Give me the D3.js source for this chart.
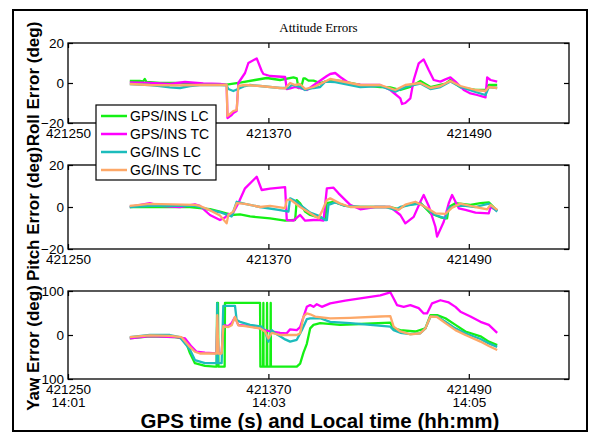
<!DOCTYPE html>
<html>
<head>
<meta charset="utf-8">
<script src="https://cdn.jsdelivr.net/npm/d3@7/dist/d3.min.js"></script>
<style>
  html, body { margin: 0; padding: 0; background: #fff; }
  svg { display: block; }
</style>
</head>
<body>
<svg id="chart" width="590" height="433"></svg>
<script>
// ---- time axis ----
const timeDomain = [421250, 421550];
const timeTicks = [421250, 421370, 421490];
const clockLabels = ["14:01", "14:03", "14:05"];

// ---- series ----
const seriesNames = ["GPS/INS LC", "GPS/INS TC", "GG/INS LC", "GG/INS TC"];
const seriesColors = ["#14f014", "#ff00ff", "#1cbcbc", "#fda868"];

// Roll error (deg) — [GPS time, value]
const rollGpsLC = [[421287,1],[421293,1],[421295,0.8],[421296,2],[421297,0.5],[421305,0],[421317,0],[421329,-0.5],[421345,-0.8],[421353,0.2],[421362,1.5],[421369,2.5],[421377,1.5],[421385,2.8],[421387,2.3],[421388,-2.5],[421390,-1],[421391,2.3],[421392,2.3],[421394,1.2],[421397,1.2],[421401,0],[421407,1.5],[421413,1],[421425,-1],[421437,-2],[421443,-2.2],[421449,-3.5],[421455,-2],[421461,1],[421467,-2],[421476,-0.3],[421479,1.5],[421485,-2.2],[421494,-3.5],[421500,-3.5],[421502,-1],[421507,-1]];
const rollGpsTC = [[421287,0.3],[421299,0],[421311,-0.5],[421320,0.5],[421331,-0.2],[421341,-0.5],[421345,-1],[421345.5,-17.5],[421348,-16],[421349,-15],[421351,-14],[421352,0],[421356,5],[421358,10],[421363,12.3],[421366,6],[421367,4.5],[421371,3.5],[421380,3],[421381,-3],[421383,-2.7],[421386,-2],[421393,-3.5],[421399,0],[421405,3.5],[421407,4.5],[421410,5],[421413,3],[421419,-0.5],[421425,-0.8],[421437,-1],[421443,-3.5],[421449,-7.7],[421450,-10.5],[421452,-10],[421455,-7.7],[421457,1.5],[421460,9.8],[421463,11.8],[421466,6.5],[421469,1.5],[421473,0.7],[421476,1.8],[421479,2.8],[421482,0.7],[421487,-3.5],[421491,-5.2],[421495,-6],[421500,-7.2],[421501,2.8],[421503,1.5],[421507,0.7]];
const rollGgLC = [[421287,-0.5],[421299,-1],[421305,-1.5],[421311,-2.2],[421317,-2.5],[421323,-1.5],[421329,-1],[421341,-1],[421345,-1.2],[421346,-3],[421349,-4],[421356,-1.5],[421359,-1],[421365,-1.5],[421377,-2.5],[421382,-2.5],[421384,-1],[421389,-2],[421392,-3.5],[421397,-2.5],[421401,-2],[421404,0.7],[421410,0.5],[421413,0],[421425,-2],[421437,-1.5],[421446,-4.3],[421452,-2],[421461,-0.3],[421467,-3],[421473,-2],[421479,0.8],[421485,-2],[421494,-4.5],[421500,-6],[421502,-2],[421507,-2.5]];
const rollGgTC = [[421287,-0.5],[421299,-1],[421317,-1.2],[421329,-1],[421345,-1],[421345.5,-16.5],[421349,-14],[421351,-13.5],[421352,-1.5],[421356,-1],[421365,-1.5],[421377,-2.5],[421380,-2.7],[421383,0],[421386,-1],[421389,-0.5],[421392,-3],[421397,-2],[421401,-0.5],[421407,2],[421413,1],[421419,0],[421425,-1],[421437,-1],[421446,-3.5],[421452,-1],[421461,0],[421467,-2.5],[421473,-1.5],[421479,1],[421485,-1.5],[421494,-3.5],[421500,-4],[421502,-2],[421507,-2.5]];

// Pitch error (deg)
const pitchGpsLC = [[421287,0],[421299,0],[421323,0],[421329,-0.5],[421335,-1],[421341,-2.2],[421348,-3.8],[421353,-3.5],[421359,-4.5],[421371,-5.4],[421380,-6.5],[421385,-6.2],[421386,-6.2],[421387,3.3],[421389,1.8],[421392,-2.2],[421395,-3.8],[421398,-4.5],[421403,-5.4],[421404,-5.4],[421405,1.8],[421409,2.5],[421416,0.5],[421425,0],[421443,0],[421448,-1],[421452,0.8],[421461,2],[421467,-3],[421473,-4.9],[421476,-5.4],[421477,-5.4],[421478,0],[421482,1.8],[421491,1],[421497,1.8],[421502,2.2],[421507,-1.8]];
const pitchGpsTC = [[421287,0],[421299,1.8],[421305,0.5],[421317,0],[421326,1.3],[421329,0.5],[421335,-3.8],[421341,-6.2],[421344,-5],[421346,-3.3],[421348,-4],[421352,1.8],[421356,8.9],[421363,14.4],[421366,8.1],[421371,8.7],[421380,9.5],[421381,-6.2],[421385,-6.5],[421389,-3.8],[421392,-6.5],[421397,-6.2],[421401,-6.2],[421403,-6.5],[421405,8.9],[421409,9.2],[421412,6.5],[421419,1],[421425,-1.1],[421434,0],[421443,0],[421449,-3.8],[421452,-7.8],[421457,-4.7],[421461,2.5],[421463,5.7],[421466,0.5],[421470,-9.4],[421471,-14.1],[421475,-7],[421478,1.8],[421480,5.7],[421484,-0.6],[421488,-1.4],[421494,-2.7],[421502,-3],[421503,0],[421507,-1.8]];
const pitchGgLC = [[421287,0],[421299,0.5],[421326,0.5],[421329,0],[421335,-1.5],[421341,-2.5],[421348,-4.5],[421351,2.5],[421356,1.5],[421365,0],[421377,-1.5],[421382,-2.2],[421383,4.1],[421386,3],[421389,1],[421395,-2.7],[421401,-4.5],[421404,-6.2],[421405,-6.2],[421406,1],[421410,2.2],[421416,0.5],[421425,0],[421440,0],[421446,-1.4],[421449,0],[421455,1],[421461,1.6],[421470,-3.8],[421476,-5.4],[421478,-0.3],[421482,0.5],[421488,0.5],[421494,0],[421502,1.6],[421507,-2.2]];
const pitchGgTC = [[421287,0.5],[421299,1.5],[421326,1],[421329,0.5],[421335,-1.5],[421341,-4],[421345,-7.8],[421346,-3.8],[421349,-2.2],[421351,1.8],[421356,1.5],[421365,0],[421371,0.5],[421380,-0.5],[421381,3.3],[421383,3.6],[421389,0],[421395,-3],[421400,-5.4],[421402,-2.2],[421405,3.3],[421407,4.1],[421413,1.6],[421419,0],[421437,0],[421443,0],[421448,-1.4],[421452,1.1],[421458,2.5],[421464,0],[421470,-3],[421476,-3.3],[421480,-0.3],[421485,1.6],[421494,0],[421501,-1.1],[421503,1],[421507,-1.4]];

// Yaw error (deg)
const yawGpsLC = [[421287,-7.6],[421299,-3],[421314,-5],[421320,-9],[421323,-41],[421326,-64],[421332,-70],[421338,-72],[421339,-72],[421339.3,73],[421339.8,73],[421340.1,-72],[421343.8,-72],[421344,73],[421365,73],[421365.2,-72],[421366.8,-72],[421367,73],[421367.1,-72],[421369,-72],[421369.2,73],[421369.3,-72],[421371.2,-72],[421371.4,73],[421371.5,-72],[421387,-72],[421389,-65],[421391,-40],[421393,-20],[421395,15],[421397,23],[421401,27],[421413,23],[421425,25],[421443,28],[421445,15],[421449,11],[421458,8],[421464,15],[421467,45],[421471,45],[421476,38],[421482,23],[421488,8],[421497,-3],[421502,-15],[421507,-23]];
const yawGpsTC = [[421287,-7.6],[421299,-2.3],[421314,-4.5],[421320,-7.6],[421324,-26.5],[421327,-38],[421332,-40],[421339,-41.7],[421339.4,40],[421340,-41.7],[421342,-41.7],[421343,22.7],[421346,20],[421348,27],[421350,41],[421352,22.7],[421359,20],[421365,15],[421369,10],[421377,5],[421381,3.8],[421383,13],[421387,11],[421389,18],[421393,64],[421395,68],[421397,64],[421399,70],[421402,64],[421407,72],[421416,78],[421425,83],[421437,90],[421443,97],[421445,83],[421447,68],[421451,64],[421455,68],[421460,61],[421463,49],[421465,49],[421468,72],[421473,79],[421478,74],[421482,64],[421485,53],[421491,42],[421497,30],[421502,23],[421507,5]];
const yawGgLC = [[421287,-5],[421299,0],[421311,0],[421317,-5],[421323,-33],[421326,-57],[421332,-64],[421339,-64],[421339.4,72],[421339.8,-64],[421342,-64],[421343,66],[421350,66],[421351,34],[421353,30],[421359,23],[421366,19],[421368,8],[421370,-15],[421372,11],[421374,4],[421377,-3],[421380,-10],[421383,-15],[421387,-11],[421390,11],[421393,36],[421395,38],[421401,38],[421407,30],[421419,27],[421431,23],[421443,19],[421445,11],[421449,5],[421455,2],[421461,4],[421464,15],[421467,41],[421471,42],[421476,30],[421482,15],[421488,4],[421497,-9],[421502,-19],[421507,-27]];
const yawGgTC = [[421287,-5],[421299,-1],[421311,-2],[421318,-5],[421323,-27],[421326,-38],[421329,-42],[421339,-42],[421339.4,45],[421340,-42],[421342,-42],[421343,20],[421346,18],[421348,22],[421350,41],[421352,22],[421356,20],[421365,15],[421368,8],[421370,-8],[421372,5],[421377,0],[421383,0],[421387,0],[421389,4],[421391,42],[421393,49],[421395,47],[421398,42],[421407,38],[421419,39],[421437,42],[421443,43],[421445,19],[421449,8],[421455,1.5],[421461,4],[421464,15],[421467,42],[421471,41],[421476,27],[421482,11],[421488,0],[421497,-15],[421502,-25],[421507,-34]];

// ---- panels ----
const panels = [
  { label: "Roll Error (deg)",  domain: [-20, 20],   ticks: [-20, 0, 20],   top: 43,  bottom: 123, labelY: 84,
    series: [rollGpsLC, rollGpsTC, rollGgLC, rollGgTC] },
  { label: "Pitch Error (deg)", domain: [-20, 20],   ticks: [-20, 0, 20],   top: 165, bottom: 249, labelY: 214,
    series: [pitchGpsLC, pitchGpsTC, pitchGgLC, pitchGgTC] },
  { label: "Yaw Error (deg)",   domain: [-100, 100], ticks: [-100, 0, 100], top: 291, bottom: 379, labelY: 348,
    series: [yawGpsLC, yawGpsTC, yawGgLC, yawGgTC] }
];

const svg = d3.select("#chart");
const plotLeft = 68, plotRight = 569;
const tickFont = "Liberation Sans, Arial, sans-serif";

// outer figure frame
svg.append("rect")
  .attr("x", 13).attr("y", 10).attr("width", 574).attr("height", 421)
  .attr("fill", "none").attr("stroke", "#000").attr("stroke-width", 2);

svg.append("text")
  .attr("x", (plotLeft + plotRight) / 2).attr("y", 32)
  .attr("text-anchor", "middle")
  .attr("font-family", "Liberation Serif, Times New Roman, serif")
  .attr("font-size", 13)
  .text("Attitude Errors");

const x = d3.scaleLinear().domain(timeDomain).range([plotLeft, plotRight]);

panels.forEach((p, pi) => {
  const y = d3.scaleLinear().domain(p.domain).range([p.bottom, p.top]);
  const g = svg.append("g");
  const last = pi === panels.length - 1;

  // bottom axis with labels, ticks pointing inward
  const bottomAxis = d3.axisBottom(x).tickValues(timeTicks)
    .tickSizeInner(-5).tickSizeOuter(0).tickPadding(5).tickFormat(d3.format("d"));
  const gb = g.append("g").attr("transform", `translate(0,${p.bottom})`).call(bottomAxis);
  if (last) {
    gb.selectAll(".tick text").each(function(d, i) {
      d3.select(this).append("tspan").attr("x", 0).attr("dy", "1.0em").text(clockLabels[i]);
    });
  }
  // top axis (ticks only)
  g.append("g").attr("transform", `translate(0,${p.top})`)
    .call(d3.axisTop(x).tickValues(timeTicks).tickSizeInner(-5).tickSizeOuter(0).tickFormat(""));
  // left axis with labels
  g.append("g").attr("transform", `translate(${plotLeft},0)`)
    .call(d3.axisLeft(y).tickValues(p.ticks).tickSizeInner(-5).tickSizeOuter(0).tickPadding(4));
  // right axis (ticks only)
  g.append("g").attr("transform", `translate(${plotRight},0)`)
    .call(d3.axisRight(y).tickValues(p.ticks).tickSizeInner(-5).tickSizeOuter(0).tickFormat(""));

  g.selectAll(".domain").remove();
  g.selectAll(".tick line").attr("stroke", "#000").attr("stroke-width", 1.2);
  g.selectAll(".tick text").attr("fill", "#000")
    .attr("font-family", tickFont).attr("font-size", 13.5);

  // series lines
  const line = d3.line().x(d => x(d[0])).y(d => y(d[1]));
  p.series.forEach((s, si) => {
    g.append("path").datum(s)
      .attr("d", line)
      .attr("fill", "none")
      .attr("stroke", seriesColors[si])
      .attr("stroke-width", 2.3)
      .attr("stroke-linejoin", "round");
  });

  // axes box
  g.append("rect")
    .attr("x", plotLeft).attr("y", p.top)
    .attr("width", plotRight - plotLeft).attr("height", p.bottom - p.top)
    .attr("fill", "none").attr("stroke", "#000").attr("stroke-width", 1.3);

  // y label
  g.append("text")
    .attr("transform", `translate(39,${p.labelY}) rotate(-90)`)
    .attr("text-anchor", "middle")
    .attr("font-family", tickFont).attr("font-weight", "bold").attr("font-size", 17)
    .text(p.label);
});

// x title
svg.append("text")
  .attr("x", 320).attr("y", 428)
  .attr("text-anchor", "middle")
  .attr("font-family", tickFont).attr("font-weight", "bold").attr("font-size", 20.5)
  .text("GPS time (s) and Local time (hh:mm)");

// legend
const legend = svg.append("g").attr("transform", "translate(96,105)");
legend.append("rect").attr("width", 120).attr("height", 75)
  .attr("fill", "#fff").attr("stroke", "#000").attr("stroke-width", 1.2);
seriesNames.forEach((name, i) => {
  const cy = 11 + i * 18;
  legend.append("line").attr("x1", 5).attr("x2", 31).attr("y1", cy).attr("y2", cy)
    .attr("stroke", seriesColors[i]).attr("stroke-width", 2.5);
  legend.append("text").attr("x", 34).attr("y", cy).attr("dy", "0.36em")
    .attr("font-family", tickFont).attr("font-size", 14)
    .text(name);
});
</script>
</body>
</html>
